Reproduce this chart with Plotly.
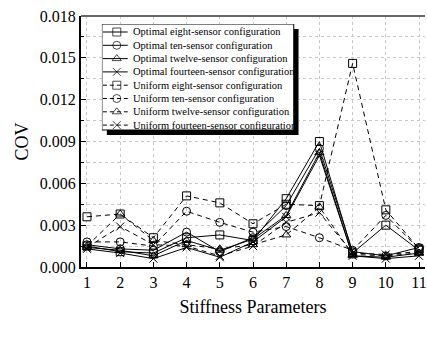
import plotly.graph_objects as go

params = list(range(1, 12))
opt_eight = [0.0015, 0.0011, 0.0010, 0.0021, 0.0023, 0.0019, 0.0049, 0.0090, 0.0010, 0.0030, 0.0012]
opt_ten = [0.0016, 0.0013, 0.0012, 0.0025, 0.0011, 0.0021, 0.0044, 0.0085, 0.0011, 0.0008, 0.0014]
opt_twelve = [0.0014, 0.0012, 0.0008, 0.0019, 0.0012, 0.0020, 0.0037, 0.0082, 0.0008, 0.0007, 0.0010]
opt_fourteen = [0.0013, 0.0010, 0.0006, 0.0014, 0.0007, 0.0018, 0.0036, 0.0080, 0.0008, 0.0006, 0.0008]
uni_eight = [0.0036, 0.0038, 0.0021, 0.0051, 0.0046, 0.0031, 0.0045, 0.0044, 0.0146, 0.0041, 0.0013]
uni_ten = [0.0018, 0.0018, 0.0015, 0.0040, 0.0032, 0.0025, 0.0029, 0.0021, 0.0012, 0.0037, 0.0013]
uni_twelve = [0.0015, 0.0038, 0.0019, 0.0016, 0.0013, 0.0016, 0.0023, 0.0043, 0.0009, 0.0008, 0.0010]
uni_fourteen = [0.0014, 0.0029, 0.0016, 0.0015, 0.0008, 0.0015, 0.0032, 0.0039, 0.0010, 0.0009, 0.0011]

names = [
    "Optimal eight-sensor configuration",
    "Optimal ten-sensor configuration",
    "Optimal twelve-sensor configuration",
    "Optimal fourteen-sensor configuration",
    "Uniform eight-sensor configuration",
    "Uniform ten-sensor configuration",
    "Uniform twelve-sensor configuration",
    "Uniform fourteen-sensor configuration",
]
series = [opt_eight, opt_ten, opt_twelve, opt_fourteen, uni_eight, uni_ten, uni_twelve, uni_fourteen]
symbols = ["square-open", "circle-open", "triangle-up-open", "x-thin-open"] * 2
dashes = ["solid"] * 4 + ["5px,4px"] * 4

FONT = "Liberation Serif"
fig = go.Figure()

for name, vals, sym, dash in zip(names, series, symbols, dashes):
    fig.add_trace(go.Scatter(
        x=params, y=vals, name=name, mode="lines+markers",
        line=dict(color="black", width=1, dash=dash),
        marker=dict(symbol=sym, size=8, color="black", line=dict(color="black", width=1)),
        showlegend=False, xaxis="x", yaxis="y", cliponaxis=False,
    ))

# custom legend drawn in an inset axis (units ~ pixels from the legend's top-left corner)
BOX_W, BOX_H, SH = 193, 106, 5
fig.add_trace(go.Scatter(
    x=[SH, SH + BOX_W, SH + BOX_W, SH, SH], y=[SH, SH, SH + BOX_H, SH + BOX_H, SH],
    mode="lines", fill="toself", fillcolor="black", line=dict(color="black", width=0),
    showlegend=False, xaxis="x2", yaxis="y2", hoverinfo="skip"))
fig.add_trace(go.Scatter(
    x=[0, BOX_W, BOX_W, 0, 0], y=[0, 0, BOX_H, BOX_H, 0],
    mode="lines", fill="toself", fillcolor="white", line=dict(color="black", width=1),
    showlegend=False, xaxis="x2", yaxis="y2", hoverinfo="skip"))

row_y = [8 + 13.3 * i for i in range(8)]
for i, (name, sym, dash) in enumerate(zip(names, symbols, dashes)):
    fig.add_trace(go.Scatter(
        x=[1, 15, 26], y=[row_y[i]] * 3, mode="lines+markers",
        line=dict(color="black", width=1, dash=("solid" if dash == "solid" else "4px,3px")),
        marker=dict(symbol=sym, size=[0, 8, 0], color="black", line=dict(color="black", width=1)),
        showlegend=False, xaxis="x2", yaxis="y2", hoverinfo="skip",
    ))
    fig.add_annotation(x=29, y=row_y[i], xref="x2", yref="y2", text=name, showarrow=False,
                       xanchor="left", yanchor="middle",
                       font=dict(family=FONT, size=10.5, color="black"))

W, H = 427, 337
L, R, T, B = 81, 0, 16, 70
pw, ph = W - L - R, H - T - B
lx0, lx1, ly0, ly1 = 102, 102 + BOX_W + SH, 24, 24 + BOX_H + SH

fig.update_layout(
    width=W, height=H,
    margin=dict(l=L, r=R, t=T, b=B),
    paper_bgcolor="white", plot_bgcolor="white",
    font=dict(family=FONT, size=16, color="black"),
    xaxis=dict(
        range=[0.82, 11.18], tickmode="array", tickvals=params,
        ticktext=[str(p) for p in params], ticklabeloverflow="allow",
        ticks="inside", ticklen=5, tickcolor="black", tickwidth=1,
        showline=True, linecolor="black", linewidth=2,
        showgrid=True, gridcolor="#c8c8c8", griddash="dot", gridwidth=1,
        zeroline=False,
        title=dict(text="Stiffness Parameters", font=dict(size=18), standoff=10),
        tickfont=dict(size=16),
    ),
    yaxis=dict(
        range=[0, 0.018], tick0=0, dtick=0.003, tickformat=".3f",
        ticks="inside", ticklen=5, tickcolor="black", tickwidth=1,
        showline=True, linecolor="black", linewidth=2,
        showgrid=True, gridcolor="#c8c8c8", griddash="dot", gridwidth=1,
        zeroline=False,
        minor=dict(dtick=0.0015, ticks="inside", ticklen=3, tickcolor="black",
                   showgrid=True, gridcolor="#c8c8c8", griddash="dot", gridwidth=1),
        title=dict(text="COV", font=dict(size=18), standoff=6),
        tickfont=dict(size=16),
    ),
    xaxis2=dict(domain=[(lx0 - L) / pw, (lx1 - L) / pw], range=[0, lx1 - lx0],
                anchor="y2", visible=False, showgrid=False, zeroline=False, fixedrange=True),
    yaxis2=dict(domain=[1 - (ly1 - T) / ph, 1 - (ly0 - T) / ph], range=[ly1 - ly0, 0],
                anchor="x2", visible=False, showgrid=False, zeroline=False, fixedrange=True),
    shapes=[
        dict(type="line", xref="paper", yref="paper", x0=0, x1=1, y0=1, y1=1,
             line=dict(color="#666666", width=2), layer="above"),
    ],
)

fig.write_html("out.html")
